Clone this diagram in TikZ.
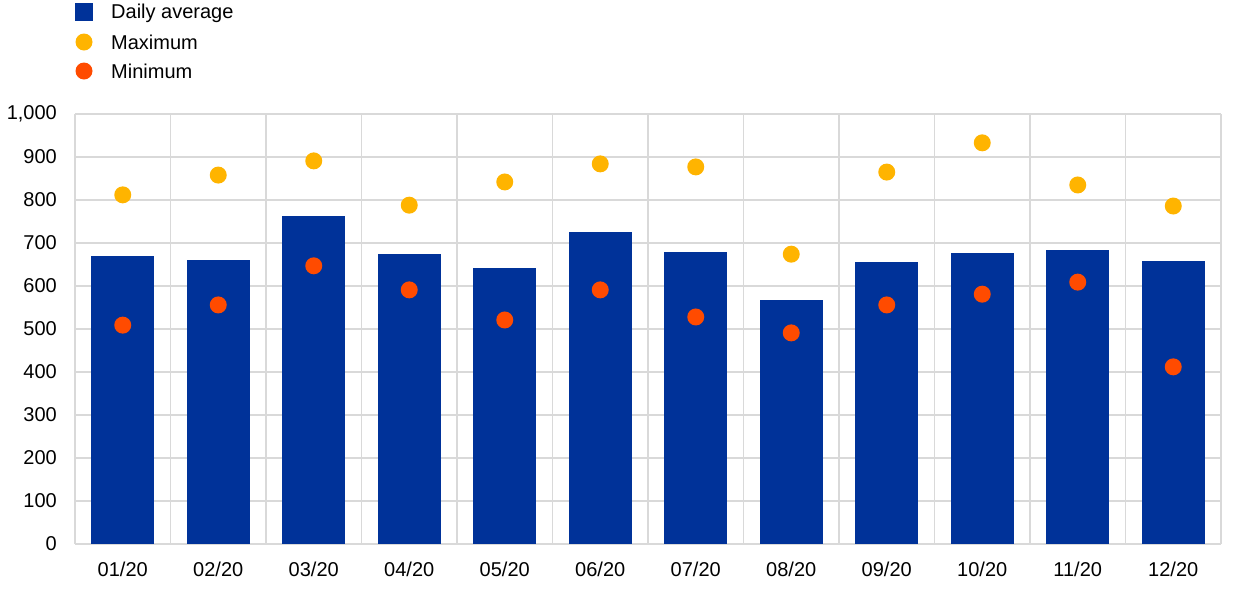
\documentclass[tikz,border=0pt]{standalone}
\usepackage{fontspec}
\setmainfont{Liberation Sans}
\definecolor{ecbblue}{HTML}{003299}
\definecolor{ecbyellow}{HTML}{FFB400}
\definecolor{ecborange}{HTML}{FF4B00}
\definecolor{gridgray}{HTML}{D9D9D9}
\begin{document}
\begin{tikzpicture}[x=1pt,y=-1pt,
  lbl/.style={font=\fontsize{20}{23}\selectfont,inner sep=0pt},
  gridline/.style={draw=gridgray,line width=1.1pt},
  bar/.style={fill=ecbblue,draw=none},
  maxdot/.style={fill=ecbyellow,draw=none},
  mindot/.style={fill=ecborange,draw=none}]
\useasboundingbox (0,0) rectangle (1240,590);
% horizontal grid
\foreach \v in {100,200,...,1000} {
  \draw[gridline] (75,{544-0.43*\v}) -- (1221,{544-0.43*\v});
}
% vertical grid
\foreach \i in {0,...,12} {
  \draw[gridline] ({75+95.5*\i},114) -- ({75+95.5*\i},544);
}
\draw[gridline] (75,544) -- (1221,544);
% y labels
\foreach \v/\t in {0/0,100/100,200/200,300/300,400/400,500/500,600/600,700/700,800/800,900/900,1000/{1,000}} {
  \node[lbl,anchor=east] (y\v) at (57,{544-0.43*\v}) {\t};
}
% data
\foreach \i/\lab/\avg/\mx/\mn in {
  0/01/670/812/509, 1/02/660/858/556, 2/03/763/891/647, 3/04/674/788/591,
  4/05/642/842/521, 5/06/726/884/591, 6/07/679/877/528, 7/08/567/674/491,
  8/09/656/865/556, 9/10/677/933/581, 10/11/684/835/609, 11/12/658/786/412} {
  \pgfmathsetmacro{\cx}{75+95.5*(\i+0.5)}
  \fill[bar] ({\cx-31.5},544) rectangle ({\cx+31.5},{544-0.43*\avg});
  \fill[maxdot] (\cx,{544-0.43*\mx}) circle (8.5);
  \fill[mindot] (\cx,{544-0.43*\mn}) circle (8.5);
  \node[lbl] (x\i) at (\cx,569) {\lab/20};
}
% legend
\fill[ecbblue] (75,3) rectangle (93,21);
\node[lbl,anchor=west] (lavg) at (111,13) {Daily average};
\fill[ecbyellow] (84,42) circle (8.5);
\node[lbl,anchor=west] (lmax) at (111,42) {Maximum};
\fill[ecborange] (84,71) circle (8.5);
\node[lbl,anchor=west] (lmin) at (111,71) {Minimum};
\end{tikzpicture}
\end{document}
